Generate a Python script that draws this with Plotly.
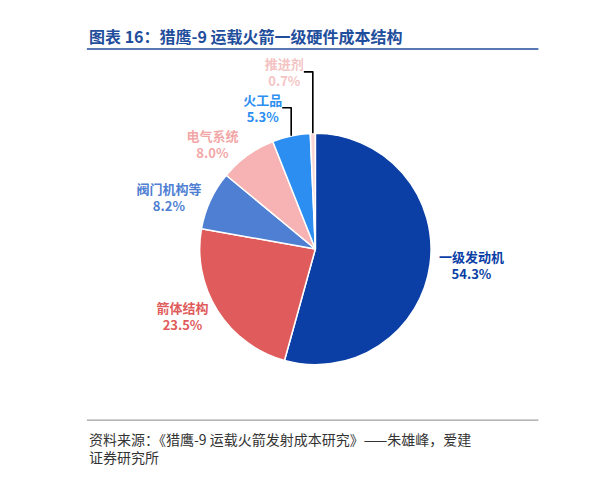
import plotly.graph_objects as go

labels = ["一级发动机", "箭体结构", "阀门机构等", "电气系统", "火工品", "推进剂"]
values = [54.3, 23.5, 8.2, 8.0, 5.3, 0.7]
colors = ["#0b3fa6", "#e05c5c", "#4f7fd2", "#f7b3b3", "#2b8ef0", "#f9d6d6"]
text_colors = ["#0b3fa6", "#e05c5c", "#4f7fd2", "#f2a7a7", "#2b8ef0", "#f4c4c4"]

fig = go.Figure(go.Pie(
    labels=labels, values=values, sort=False, direction="clockwise", rotation=0,
    marker=dict(colors=colors, line=dict(color="white", width=1.5)),
    texttemplate="<b>%{label}<br>%{value:.1f}%</b>", textposition="outside",
    outsidetextfont=dict(color=text_colors, size=13, family="Noto Sans CJK SC"),
    domain=dict(x=[0.25, 0.88], y=[0.26, 0.74]), showlegend=False,
))

fig.add_annotation(text="<b>图表 16：猎鹰-9 运载火箭一级硬件成本结构</b>", x=0.145, y=0.97,
                   xref="paper", yref="paper", xanchor="left", yanchor="top", showarrow=False,
                   font=dict(size=16, color="#1f4e9c", family="Noto Sans CJK SC"))
fig.add_shape(type="line", x0=0.145, x1=0.975, y0=0.915, y1=0.915, xref="paper", yref="paper",
              line=dict(color="#1f4e9c", width=1.5))
fig.add_shape(type="line", x0=0.145, x1=0.975, y0=0.145, y1=0.145, xref="paper", yref="paper",
              line=dict(color="#888", width=1))
fig.add_annotation(text="资料来源：《猎鹰-9 运载火箭发射成本研究》——朱雄峰，爱建<br>证券研究所",
                   x=0.145, y=0.13, xref="paper", yref="paper", xanchor="left", yanchor="top",
                   align="left", showarrow=False,
                   font=dict(size=14, color="#333", family="Noto Sans CJK SC"))

fig.update_layout(width=613, height=482, margin=dict(l=0, r=0, t=0, b=0),
                  paper_bgcolor="white", plot_bgcolor="white")
fig.write_html("out.html")
